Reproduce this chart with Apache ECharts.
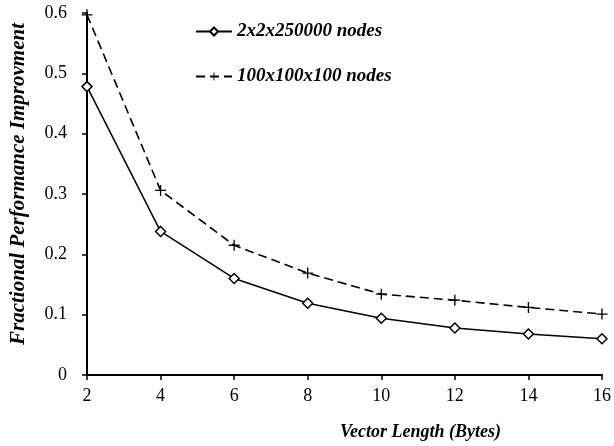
<!DOCTYPE html>
<html>
<head>
<meta charset="utf-8">
<script src="https://cdn.jsdelivr.net/npm/echarts@6/dist/echarts.min.js"></script>
<style>
  html, body { margin: 0; padding: 0; background: #fff; }
  #main { width: 614px; height: 446px; }
</style>
</head>
<body>
<div id="main"></div>
<script>
// vector length in bytes
var vectorLength = [2, 4, 6, 8, 10, 12, 14, 16];
// fractional performance improvement
var nodes2x2 = [0.478, 0.238, 0.160, 0.119, 0.094, 0.078, 0.068, 0.060];
var nodes100 = [0.597, 0.306, 0.215, 0.169, 0.134, 0.124, 0.112, 0.101];
var seriesNames = ['2x2x250000 nodes', '100x100x100 nodes'];

var plus = 'path://M4.4,0h1.2v4.4h4.4v1.2h-4.4v4.4h-1.2v-4.4h-4.4v-1.2h4.4z';
var font = 'Liberation Serif';

function pairs(ys) {
  return vectorLength.map(function (x, i) { return [x, ys[i]]; });
}

var chart = echarts.init(document.getElementById('main'));
chart.setOption({
  animation: false,
  backgroundColor: '#fff',
  grid: { left: 80, right: 6, top: 13, bottom: 71, containLabel: false },
  legend: {
    orient: 'vertical',
    left: 190,
    top: 17,
    itemGap: 26,
    itemWidth: 36,
    itemHeight: 10,
    textStyle: { fontFamily: font, fontSize: 19, fontStyle: 'italic', fontWeight: 'bold', color: '#000' },
    data: seriesNames
  },
  xAxis: {
    type: 'value',
    min: 2,
    max: 16,
    interval: 2,
    name: 'Vector Length (Bytes)',
    nameLocation: 'middle',
    nameGap: 48,
    nameTextStyle: { fontFamily: font, fontSize: 18, fontStyle: 'italic', fontWeight: 'bold', color: '#000', padding: [0, 0, 0, 152] },
    axisLine: { lineStyle: { color: '#000', width: 2 } },
    axisTick: { show: true, length: 5, lineStyle: { color: '#000', width: 1.5 } },
    axisLabel: { fontFamily: font, fontSize: 18, color: '#000', margin: 12 },
    splitLine: { show: false }
  },
  yAxis: {
    type: 'value',
    min: 0,
    max: 0.6,
    interval: 0.1,
    name: 'Fractional Performance Improvment',
    nameLocation: 'middle',
    nameGap: 58,
    nameTextStyle: { fontFamily: font, fontSize: 21, fontStyle: 'italic', fontWeight: 'bold', color: '#000', padding: [0, 0, 0, 20] },
    axisLine: { show: true, lineStyle: { color: '#000', width: 2 } },
    axisTick: { show: true, length: 5, lineStyle: { color: '#000', width: 1.5 } },
    axisLabel: {
      fontFamily: font, fontSize: 18, color: '#000', margin: 20,
      formatter: function (v) { return v === 0 ? '0' : v.toFixed(1); }
    },
    splitLine: { show: false }
  },
  series: [
    {
      name: seriesNames[0],
      type: 'line',
      data: pairs(nodes2x2),
      symbol: 'diamond',
      symbolSize: 10,
      itemStyle: { color: '#fff', borderColor: '#000', borderWidth: 1.5 },
      lineStyle: { color: '#000', width: 1.5 }
    },
    {
      name: seriesNames[1],
      type: 'line',
      data: pairs(nodes100),
      symbol: plus,
      symbolSize: 11,
      itemStyle: { color: '#000', borderWidth: 0 },
      lineStyle: { color: '#000', width: 1.6, type: [9, 5] }
    }
  ]
});
</script>
</body>
</html>
